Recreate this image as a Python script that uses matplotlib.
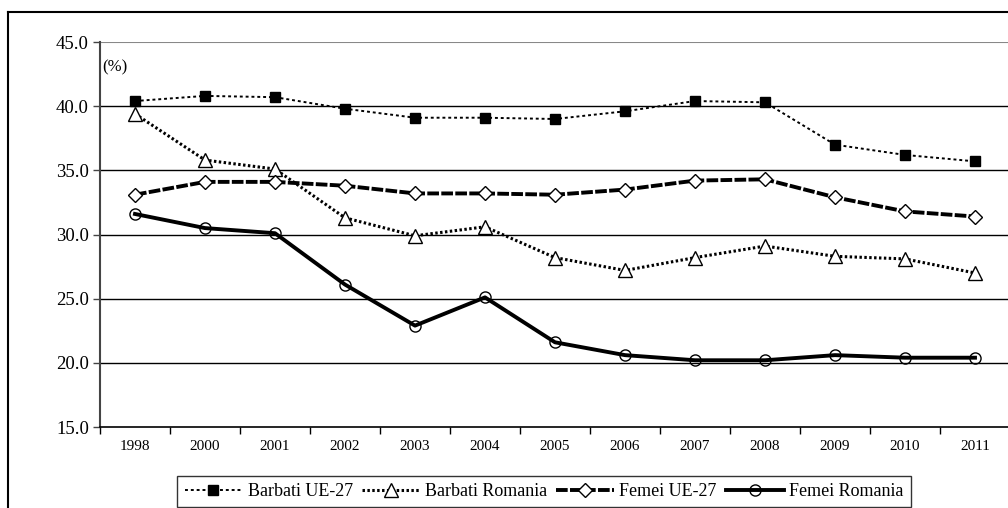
import matplotlib
matplotlib.use("Agg")
import matplotlib.pyplot as plt
from matplotlib.lines import Line2D

plt.rcParams['font.family'] = ['Liberation Serif', 'DejaVu Serif']

# Data
years = ["1998", "2000", "2001", "2002", "2003", "2004", "2005",
         "2006", "2007", "2008", "2009", "2010", "2011"]
barbati_ue27 = [40.4, 40.8, 40.7, 39.8, 39.1, 39.1, 39.0, 39.6, 40.4, 40.3, 37.0, 36.2, 35.7]
barbati_ro = [39.4, 35.8, 35.1, 31.3, 29.9, 30.6, 28.2, 27.2, 28.2, 29.1, 28.3, 28.1, 27.0]
femei_ue27 = [33.1, 34.1, 34.1, 33.8, 33.2, 33.2, 33.1, 33.5, 34.2, 34.3, 32.9, 31.8, 31.4]
femei_ro = [31.6, 30.5, 30.1, 26.1, 22.9, 25.1, 21.6, 20.6, 20.2, 20.2, 20.6, 20.4, 20.4]

W, H = 1008, 508
fig = plt.figure(figsize=(W / 100, H / 100), dpi=100)
ax = fig.add_axes([100 / W, 81 / H, 910 / W, 385 / H])

x = list(range(len(years)))

ax.plot(x, barbati_ue27, color='black', lw=1.4, ls=(0, (1.5, 1.5)),
        marker='s', ms=7, mfc='black', mec='black', label='Barbati UE-27', zorder=4)
ax.plot(x, barbati_ro, color='black', lw=2.2, ls=(0, (0.8, 0.8)),
        marker='^', ms=10, mfc='white', mec='black', mew=1.0, label='Barbati Romania', zorder=4)
ax.plot(x, femei_ue27, color='black', lw=2.8, ls=(0, (3, 0.6)),
        marker='D', ms=7, mfc='white', mec='black', mew=1.0, label='Femei UE-27', zorder=4)
ax.plot(x, femei_ro, color='black', lw=2.8, ls='-',
        marker='o', ms=8, mfc='none', mec='black', mew=1.0, label='Femei Romania', zorder=4)

ax.set_xlim(-0.5, len(years) - 0.5)
ax.set_ylim(15, 45)
yt = [15, 20, 25, 30, 35, 40, 45]
ax.set_yticks(yt)
ax.set_yticklabels([f"{v:.1f}" for v in yt], fontsize=13.5)
ax.set_xticks(x)
ax.set_xticklabels(years, fontsize=11)
ax.set_xticks([i - 0.5 for i in range(len(years) + 1)], minor=True)
ax.tick_params(axis='x', which='major', length=0, pad=9)
ax.tick_params(axis='x', which='minor', length=5, width=1, color='black')
ax.tick_params(axis='y', length=5, width=1, color='#444444', pad=3)

for v in [20, 25, 30, 35, 40]:
    ax.axhline(v, color='black', lw=1.0, zorder=1)
ax.axhline(45, color='#888888', lw=1.5, zorder=1)

for s in ['top', 'right']:
    ax.spines[s].set_visible(False)
ax.spines['left'].set_color('#444444')
ax.spines['left'].set_linewidth(1.5)
ax.spines['bottom'].set_color('black')
ax.spines['bottom'].set_linewidth(1.2)

ax.text(0.003, 0.935, "(%)", transform=ax.transAxes, fontsize=12, va='center', ha='left')

# outer chart frame
fig.add_artist(Line2D([8 / W, 8 / W], [0, 1 - 12 / H], transform=fig.transFigure, color='black', lw=1.5))
fig.add_artist(Line2D([8 / W, 1], [1 - 12 / H, 1 - 12 / H], transform=fig.transFigure, color='black', lw=1.5))

leg = fig.legend(loc='upper center', bbox_to_anchor=(544 / W, 1 - 476 / H), ncol=4,
                 prop={'family': 'Liberation Serif', 'size': 13},
                 frameon=True, fancybox=False, edgecolor='black',
                 handlelength=3.2, handletextpad=0.3, columnspacing=0.5,
                 borderpad=0.4, borderaxespad=0)
leg.get_frame().set_linewidth(1.0)

fig.savefig("out.png", dpi=100)
